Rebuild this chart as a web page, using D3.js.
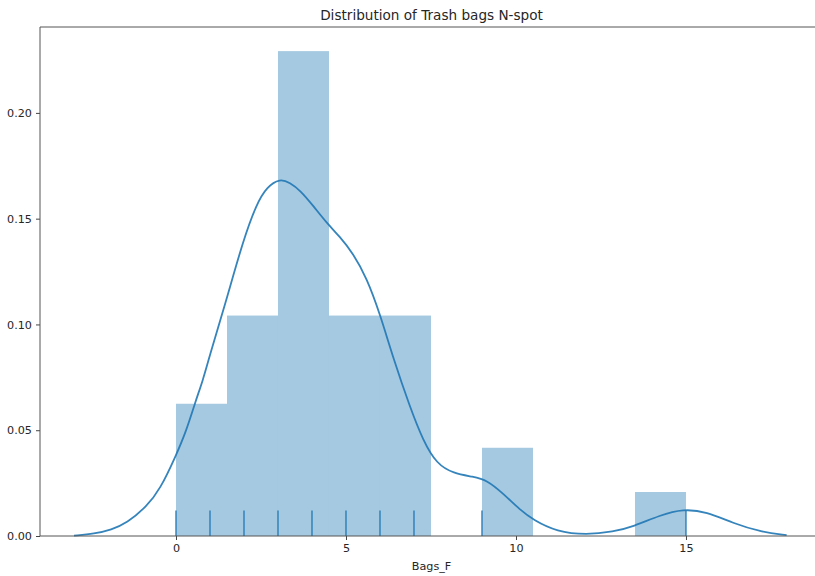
<!DOCTYPE html>
<html>
<head>
<meta charset="utf-8">
<script src="https://cdn.jsdelivr.net/npm/d3@7"></script>
<style>
  html, body { margin: 0; padding: 0; background: #ffffff; }
  svg { display: block; font-family: "DejaVu Sans", sans-serif; }
</style>
</head>
<body>
<svg id="chart" width="815" height="576"></svg>
<script>
// ---- data ----
const binEdges = [0, 1.5, 3, 4.5, 6, 7.5, 9, 10.5, 12, 13.5, 15];
const binDensity = [0.0625, 0.1042, 0.2292, 0.1042, 0.1042, 0, 0.0417, 0, 0, 0.0208];
const rugValues = [0, 1, 2, 3, 4, 5, 6, 7, 9, 15];
const kdeX = [-3.0, -2.4, -1.9, -1.45, -0.86, -0.47, 0.0, 0.31, 0.56, 0.8, 0.95, 1.49, 1.98, 2.37, 2.67, 3.06, 3.35, 3.65, 4.04, 4.43, 4.82, 5.21, 5.61, 6.0, 6.39, 6.88, 7.27, 7.67, 8.16, 8.74, 9.14, 9.63, 10.12, 10.51, 11.2, 12.08, 12.86, 13.45, 14.24, 14.92, 15.6, 16.39, 17.18, 17.96];
const kdeY = [0.0002, 0.001, 0.003, 0.006, 0.014, 0.022, 0.038, 0.050, 0.063, 0.074, 0.083, 0.112, 0.140, 0.157, 0.165, 0.169, 0.167, 0.1635, 0.156, 0.148, 0.1415, 0.1336, 0.122, 0.105, 0.084, 0.061, 0.045, 0.034, 0.0296, 0.028, 0.0265, 0.020, 0.0123, 0.0076, 0.002, 0.0005, 0.002, 0.0044, 0.0099, 0.0128, 0.0115, 0.006, 0.002, 0.0004];
const xTicks = [0, 5, 10, 15];
const yTicks = [0, 0.05, 0.10, 0.15, 0.20];
const titleText = "Distribution of Trash bags N-spot";
const xLabel = "Bags_F";

// ---- layout ----
const pLeft = 40, pRight = 823, pTop = 27, pBottom = 536;
const color = "#1f77b4";
const textColor = "#262626";
const tickFont = 11.2;
const svg = d3.select("#chart");

const x = d3.scaleLinear().domain([-4.0, 19.03]).range([pLeft, pRight]);
const y = d3.scaleLinear().domain([0, 0.2406]).range([pBottom, pTop]);

const plot = svg.append("g");

// histogram bars
const bins = binDensity.map((d, i) => ({x0: binEdges[i], x1: binEdges[i + 1], v: d})).filter(b => b.v > 0);
plot.selectAll("rect.bar").data(bins).join("rect")
  .attr("class", "bar")
  .attr("x", d => x(d.x0))
  .attr("width", d => x(d.x1) - x(d.x0))
  .attr("y", d => y(d.v))
  .attr("height", d => y(0) - y(d.v))
  .attr("fill", color)
  .attr("fill-opacity", 0.4);

// kde line
const kde = kdeX.map((v, i) => [v, kdeY[i]]);
plot.append("path")
  .datum(kde)
  .attr("fill", "none")
  .attr("stroke", color)
  .attr("stroke-width", 1.8)
  .attr("stroke-opacity", 0.9)
  .attr("d", d3.line().x(d => x(d[0])).y(d => y(d[1])).curve(d3.curveBasis));

// rug
const rugH = (pBottom - pTop) * 0.05;
plot.selectAll("line.rug").data(rugValues).join("line")
  .attr("class", "rug")
  .attr("x1", d => x(d)).attr("x2", d => x(d))
  .attr("y1", pBottom).attr("y2", pBottom - rugH)
  .attr("stroke", color)
  .attr("stroke-width", 1.3);

// axes
const xAxis = d3.axisBottom(x).tickValues(xTicks).tickFormat(d3.format("d")).tickSize(4).tickPadding(4);
const gx = svg.append("g").attr("transform", `translate(0,${pBottom})`).call(xAxis);
gx.select(".domain").remove();
gx.selectAll("line").attr("stroke", "#444");
gx.selectAll("text").attr("fill", textColor).attr("font-size", tickFont).attr("font-family", "DejaVu Sans");

const yAxis = d3.axisLeft(y).tickValues(yTicks).tickFormat(d3.format(".2f")).tickSize(4).tickPadding(4);
const gy = svg.append("g").attr("transform", `translate(${pLeft},0)`).call(yAxis);
gy.select(".domain").remove();
gy.selectAll("line").attr("stroke", "#444");
gy.selectAll("text").attr("fill", textColor).attr("font-size", tickFont).attr("font-family", "DejaVu Sans");

// spines
svg.append("line").attr("x1", pLeft).attr("x2", pLeft).attr("y1", pTop).attr("y2", pBottom).attr("stroke", "#555").attr("stroke-width", 1);
svg.append("line").attr("x1", pLeft).attr("x2", pRight).attr("y1", pBottom).attr("y2", pBottom).attr("stroke", "#555").attr("stroke-width", 1);
svg.append("line").attr("x1", pLeft).attr("x2", pRight).attr("y1", pTop).attr("y2", pTop).attr("stroke", "#555").attr("stroke-width", 1);

// title & label
svg.append("text").attr("x", (pLeft + pRight) / 2).attr("y", 20)
  .attr("text-anchor", "middle").attr("font-size", 13.6).attr("fill", textColor).text(titleText);
svg.append("text").attr("x", (pLeft + pRight) / 2).attr("y", 570)
  .attr("text-anchor", "middle").attr("font-size", tickFont).attr("fill", textColor).text(xLabel);
</script>
</body>
</html>
